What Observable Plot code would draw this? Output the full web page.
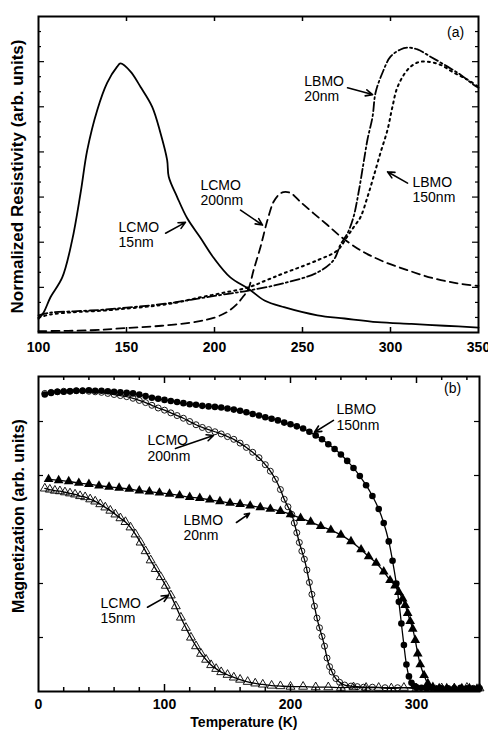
<!DOCTYPE html>
<html>
<head>
<meta charset="utf-8">
<script src="https://cdn.jsdelivr.net/npm/d3@7"></script>
<script src="https://cdn.jsdelivr.net/npm/@observablehq/plot@0.6"></script>
<style>
  html, body { margin: 0; padding: 0; background: #fff; }
  #chart { width: 488px; }
</style>
</head>
<body>
<div id="chart"></div>
<script>
// ---------- Panel (a): normalized resistivity vs temperature ----------
const resT_LCMO15 = [100, 103, 106.8, 113.5, 119.1, 123.9, 127.7, 133.4, 139, 144.7, 146.6, 152.3, 158, 164.6, 169.3, 173.1, 174, 178.8, 184.5, 192, 199.6, 209, 219.3, 228.4, 239.5, 258.5, 273.9, 292.6, 311.9, 330.7, 350];
const res_LCMO15  = [0.30, 0.45, 0.78, 1.22, 2.04, 3.09, 4.04, 4.93, 5.53, 5.89, 5.96, 5.78, 5.44, 5.00, 4.42, 3.82, 3.45, 3.00, 2.53, 2.10, 1.65, 1.22, 0.97, 0.71, 0.56, 0.38, 0.31, 0.23, 0.19, 0.15, 0.11];

const resT_LCMO200 = [100, 130, 150, 170, 190, 200, 207, 212, 216, 219.3, 222.2, 226.1, 230.1, 233.5, 236.5, 239.2, 243.2, 248.9, 256.3, 264.2, 271.6, 283, 294.3, 309.7, 324.4, 338, 350];
const res_LCMO200  = [0.03, 0.05, 0.10, 0.15, 0.24, 0.33, 0.45, 0.60, 0.78, 0.97, 1.38, 1.89, 2.49, 2.89, 3.05, 3.11, 3.09, 2.89, 2.64, 2.38, 2.13, 1.82, 1.60, 1.38, 1.20, 1.09, 1.03];

const resT_LBMO20 = [100, 106.8, 120, 135.2, 150, 163.6, 178, 192, 205, 219.3, 239.2, 258.5, 267.6, 271.6, 275.6, 279, 281.8, 284.7, 286.9, 289.8, 291.5, 295.5, 300, 305.7, 309.7, 315.3, 322.7, 332.4, 339.8, 347.2, 350];
const res_LBMO20  = [0.38, 0.44, 0.47, 0.50, 0.55, 0.60, 0.67, 0.76, 0.84, 0.93, 1.09, 1.33, 1.60, 1.95, 2.20, 2.56, 3.09, 3.76, 4.27, 4.78, 5.31, 5.76, 6.11, 6.27, 6.31, 6.27, 6.11, 5.89, 5.71, 5.49, 5.42];

const resT_LBMO150 = [100, 106.8, 120, 135.2, 150, 163.6, 178, 192, 205, 219.3, 229, 239.2, 258.5, 269.9, 275, 279, 283, 286.9, 290.3, 294.3, 298.3, 301.1, 304, 309.7, 315.3, 321, 328.4, 335.8, 343.8, 350];
const res_LBMO150  = [0.33, 0.40, 0.45, 0.48, 0.53, 0.58, 0.66, 0.78, 0.88, 1.00, 1.15, 1.31, 1.60, 1.82, 2.10, 2.33, 2.56, 3.00, 3.44, 3.98, 4.49, 5.00, 5.44, 5.82, 5.98, 6.00, 5.93, 5.76, 5.60, 5.44];

// ---------- Panel (b): magnetization vs temperature ----------
const magT_LBMO150 = [5,10,15,20,25,30,35,40,45,50,55,60,65,70,75,80,85,90,95,100,105,110,115,120,125,130,135,140,145,150,155,160,165,170,175,180,185,190,195,200,205,210,215,220,225,230,235,240,245,250,255,260,265,270,274,278,281,284,286,288,290,292,294,296,298,300,304,308,312,316,320,325,330,335,340,345,350];
const mag_LBMO150  = [5.50,5.53,5.55,5.55,5.56,5.57,5.57,5.58,5.57,5.57,5.56,5.55,5.54,5.53,5.52,5.50,5.47,5.44,5.42,5.40,5.38,5.36,5.34,5.32,5.31,5.29,5.28,5.27,5.26,5.24,5.22,5.20,5.17,5.14,5.11,5.08,5.05,5.02,4.98,4.95,4.91,4.87,4.81,4.74,4.67,4.58,4.49,4.39,4.27,4.14,3.99,3.82,3.62,3.38,3.12,2.78,2.42,2.00,1.66,1.26,0.86,0.50,0.28,0.16,0.10,0.08,0.07,0.06,0.07,0.05,0.06,0.06,0.05,0.07,0.06,0.05,0.06];

const magT_LCMO200 = [5,10,15,20,25,30,35,40,45,50,55,60,65,70,75,80,85,90,95,100,105,110,115,120,125,130,135,140,145,150,155,160,165,170,175,180,184,188,192,195,198,201,203,205,207,209,211,213,215,217,219,221,223,225,227,229,231,233,236,239,243,248,253,258,265,275,285,300,315,330,345];
const mag_LCMO200  = [5.52,5.54,5.55,5.56,5.56,5.57,5.57,5.56,5.55,5.54,5.52,5.50,5.48,5.46,5.43,5.39,5.35,5.30,5.25,5.21,5.16,5.11,5.06,5.00,4.94,4.89,4.85,4.81,4.77,4.72,4.67,4.60,4.52,4.43,4.33,4.20,4.08,3.93,3.74,3.56,3.42,3.28,3.12,2.94,2.76,2.60,2.45,2.25,2.02,1.80,1.58,1.36,1.18,1.02,0.84,0.62,0.46,0.36,0.24,0.17,0.12,0.10,0.09,0.08,0.08,0.07,0.07,0.07,0.06,0.06,0.06];

const magT_LBMO20 = [8,16,24,32,40,48,56,64,72,80,88,96,104,112,120,128,136,144,152,160,168,176,184,192,200,208,216,224,232,240,248,256,262,268,274,279,283,286,289,291,293,295,297,299,301,303,306,309,313,318,324,330,336,342,348];
const mag_LBMO20  = [3.93,3.91,3.89,3.86,3.84,3.81,3.79,3.77,3.75,3.72,3.70,3.68,3.66,3.63,3.60,3.58,3.55,3.52,3.49,3.47,3.44,3.41,3.38,3.34,3.28,3.21,3.14,3.06,2.99,2.90,2.78,2.63,2.50,2.38,2.22,2.06,1.96,1.84,1.72,1.60,1.45,1.30,1.16,0.95,0.70,0.50,0.30,0.15,0.08,0.06,0.06,0.05,0.06,0.06,0.05];

const magT_LCMO15 = [5,9,13,17,21,25,29,33,37,41,45,49,53,57,61,65,69,73,77,81,85,89,93,97,101,105,109,113,117,121,125,129,133,137,141,145,150,155,160,166,172,178,185,192,200,210,220,230,240,250,260,270,280,290,300,310,320,330,340,350];
const mag_LCMO15  = [3.76,3.74,3.72,3.71,3.69,3.67,3.65,3.62,3.60,3.56,3.52,3.47,3.41,3.35,3.28,3.21,3.14,3.04,2.91,2.76,2.60,2.43,2.27,2.12,1.96,1.78,1.58,1.37,1.18,1.00,0.84,0.70,0.59,0.49,0.42,0.36,0.31,0.26,0.22,0.18,0.15,0.13,0.11,0.10,0.09,0.09,0.08,0.08,0.07,0.08,0.07,0.07,0.06,0.07,0.06,0.07,0.06,0.06,0.07,0.06];

// ---------- Tick labels & annotation texts ----------
const ticksA_x = [100, 150, 200, 250, 300, 350];
const ticksB_x = [0, 100, 200, 300];
const labelsSample = ["LCMO\n15nm", "LCMO\n200nm", "LBMO\n20nm", "LBMO\n150nm"];
const titleA_y = "Normalized Resistivity (arb. units)";
const titleB_y = "Magnetization (arb. units)";
const titleX = "Temperature (K)";

// annotation anchors (data coordinates)
const annA = labelsSample.map((t, i) => ({text: t, x: [145.5, 192, 251, 312.5][i], y: [2.17, 3.1, 5.41, 3.16][i]}));
const arrA = [
  {x1: 172.2, y1: 2.2, x2: 183.5, y2: 2.44},
  {x1: 214.8, y1: 2.71, x2: 227.3, y2: 2.38},
  {x1: 275.6, y1: 5.42, x2: 289.8, y2: 5.27},
  {x1: 309.7, y1: 3.31, x2: 298.3, y2: 3.56}
];
const annB = labelsSample.map((t, i) => ({text: t, x: [49.2, 86.5, 115, 236.5][i], y: [1.5, 4.51, 3.04, 5.08][i]}));
const arrB = [
  {x1: 86.5, y1: 1.56, x2: 103.2, y2: 1.78},
  {x1: 108.7, y1: 4.5, x2: 138.9, y2: 4.74},
  {x1: 157.1, y1: 3.13, x2: 167.5, y2: 3.3},
  {x1: 234.1, y1: 5.02, x2: 219, y2: 4.8}
];

const pts = (xs, ys) => xs.map((x, i) => ({x, y: ys[i]}));
const FONT = "'Liberation Sans', Arial, Helvetica, sans-serif";

// ---------- Panel (a) ----------
const aW = 488, aH = 360, aML = 38, aMR = 10, aMT = 16, aMB = 28;
const aIW = aW - aML - aMR, aIH = aH - aMT - aMB;
const aMajorY = d3.range(1, 7);
const aMinorY = d3.range(0, 7.01, 1/3).filter(v => Math.abs(v - Math.round(v)) > 0.01);
const aTickX = [150, 200, 250, 300];

const plotA = Plot.plot({
  width: aW, height: aH,
  marginLeft: aML, marginRight: aMR, marginTop: aMT, marginBottom: aMB,
  x: {domain: [100, 350]},
  y: {domain: [0, 7], axis: null},
  style: {fontFamily: FONT, background: "white", color: "black", overflow: "visible"},
  marks: [
    Plot.line(pts(resT_LCMO15, res_LCMO15), {x: "x", y: "y", stroke: "black", strokeWidth: 1.8, curve: "catmull-rom"}),
    Plot.line(pts(resT_LCMO200, res_LCMO200), {x: "x", y: "y", stroke: "black", strokeWidth: 1.8, strokeDasharray: "8,5", curve: "catmull-rom"}),
    Plot.line(pts(resT_LBMO20, res_LBMO20), {x: "x", y: "y", stroke: "black", strokeWidth: 1.8, strokeDasharray: "9,3,2,3", curve: "catmull-rom"}),
    Plot.line(pts(resT_LBMO150, res_LBMO150), {x: "x", y: "y", stroke: "black", strokeWidth: 2, strokeDasharray: "2,4", curve: "catmull-rom"}),
    // ticks (inward)
    Plot.tickX(aTickX, {x: d => d, insetTop: aIH - 5, stroke: "black", strokeWidth: 1.5}),
    Plot.tickX(aTickX, {x: d => d, insetBottom: aIH - 5, stroke: "black", strokeWidth: 1.5}),
    Plot.tickY(aMajorY, {y: d => d, insetRight: aIW - 6, stroke: "black", strokeWidth: 1.2}),
    Plot.tickY(aMinorY, {y: d => d, insetRight: aIW - 3, stroke: "black", strokeWidth: 1.2}),
    Plot.tickY(aMajorY, {y: d => d, insetLeft: aIW - 6, stroke: "black", strokeWidth: 1.2}),
    Plot.tickY(aMinorY, {y: d => d, insetLeft: aIW - 3, stroke: "black", strokeWidth: 1.2}),
    Plot.axisX({ticks: ticksA_x, tickSize: 0, tickPadding: 10, fontSize: 14, fontWeight: "bold", label: null, tickFormat: d => String(d)}),
    Plot.frame({stroke: "black", strokeWidth: 2}),
    // texts
    Plot.text(annA, {x: "x", y: "y", text: "text", textAnchor: "start", fontSize: 14, lineHeight: 1.1, fill: "black"}),
    Plot.arrow(arrA, {x1: "x1", y1: "y1", x2: "x2", y2: "y2", stroke: "black", strokeWidth: 1.6, headLength: 7, headAngle: 50}),
    Plot.text(["(a)"], {x: 337, y: 6.64, text: d => d, fontSize: 14, fill: "black"}),
    Plot.text([titleA_y], {text: d => d, frameAnchor: "left", textAnchor: "middle", lineAnchor: "middle", dx: -21, dy: 2, rotate: -90, fontSize: 17, fontWeight: "bold", fill: "black"})
  ]
});

// ---------- Panel (b) ----------
const bW = 488, bH = 371, bML = 38, bMR = 9, bMT = 16, bMB = 40;
const bIW = bW - bML - bMR, bIH = bH - bMT - bMB;
const bMajorX = [100, 200, 300];
const bMinorX = d3.range(20, 350, 20).filter(v => v % 100 !== 0);
const bTickY = [1, 2, 3, 4, 5];

const lineOpts = {x: "x", y: "y", stroke: "black", strokeWidth: 1.3, curve: "catmull-rom"};

const plotB = Plot.plot({
  width: bW, height: bH,
  marginLeft: bML, marginRight: bMR, marginTop: bMT, marginBottom: bMB,
  x: {domain: [0, 350]},
  y: {domain: [0, 315 / 54], axis: null},
  style: {fontFamily: FONT, background: "white", color: "black", overflow: "visible"},
  marks: [
    Plot.line(pts(magT_LCMO15, mag_LCMO15), lineOpts),
    Plot.line(pts(magT_LCMO200, mag_LCMO200), lineOpts),
    Plot.line(pts(magT_LBMO20, mag_LBMO20), lineOpts),
    Plot.line(pts(magT_LBMO150, mag_LBMO150), lineOpts),
    Plot.dot(pts(magT_LCMO15, mag_LCMO15), {x: "x", y: "y", symbol: "triangle", r: 3.3, stroke: "black", strokeWidth: 0.9, fill: "none"}),
    Plot.dot(pts(magT_LCMO200, mag_LCMO200), {x: "x", y: "y", symbol: "circle", r: 3, stroke: "black", strokeWidth: 0.9, fill: "none"}),
    Plot.dot(pts(magT_LBMO20, mag_LBMO20), {x: "x", y: "y", symbol: "triangle", r: 3.6, fill: "black", stroke: "none"}),
    Plot.dot(pts(magT_LBMO150, mag_LBMO150), {x: "x", y: "y", symbol: "circle", r: 3.3, fill: "black", stroke: "none"}),
    // ticks (inward)
    Plot.tickX(bMajorX, {x: d => d, insetTop: bIH - 7, stroke: "black", strokeWidth: 1.5}),
    Plot.tickX(bMinorX, {x: d => d, insetTop: bIH - 4, stroke: "black", strokeWidth: 1.5}),
    Plot.tickX(bMajorX, {x: d => d, insetBottom: bIH - 7, stroke: "black", strokeWidth: 1.5}),
    Plot.tickX(bMinorX, {x: d => d, insetBottom: bIH - 4, stroke: "black", strokeWidth: 1.5}),
    Plot.tickY(bTickY, {y: d => d, insetRight: bIW - 5, stroke: "black", strokeWidth: 1.2}),
    Plot.tickY(bTickY, {y: d => d, insetLeft: bIW - 5, stroke: "black", strokeWidth: 1.2}),
    Plot.axisX({ticks: ticksB_x, tickSize: 0, tickPadding: 8, fontSize: 14, fontWeight: "bold", label: null, tickFormat: d => String(d)}),
    Plot.frame({stroke: "black", strokeWidth: 2}),
    Plot.text(annB, {x: "x", y: "y", text: "text", textAnchor: "start", fontSize: 14, lineHeight: 1.1, fill: "black"}),
    Plot.arrow(arrB, {x1: "x1", y1: "y1", x2: "x2", y2: "y2", stroke: "black", strokeWidth: 1.6, headLength: 7, headAngle: 50}),
    Plot.text(["(b)"], {x: 328.6, y: 5.61, text: d => d, fontSize: 14, fill: "black"}),
    Plot.text([titleB_y], {text: d => d, frameAnchor: "left", textAnchor: "middle", lineAnchor: "middle", dx: -20, dy: -18, rotate: -90, fontSize: 16, fontWeight: "bold", fill: "black"}),
    Plot.text([titleX], {text: d => d, x: 163, frameAnchor: "bottom", lineAnchor: "middle", dy: 31, fontSize: 14, fontWeight: "bold", fill: "black"})
  ]
});

const root = document.getElementById("chart");
root.appendChild(plotA);
root.appendChild(plotB);
</script>
</body>
</html>
